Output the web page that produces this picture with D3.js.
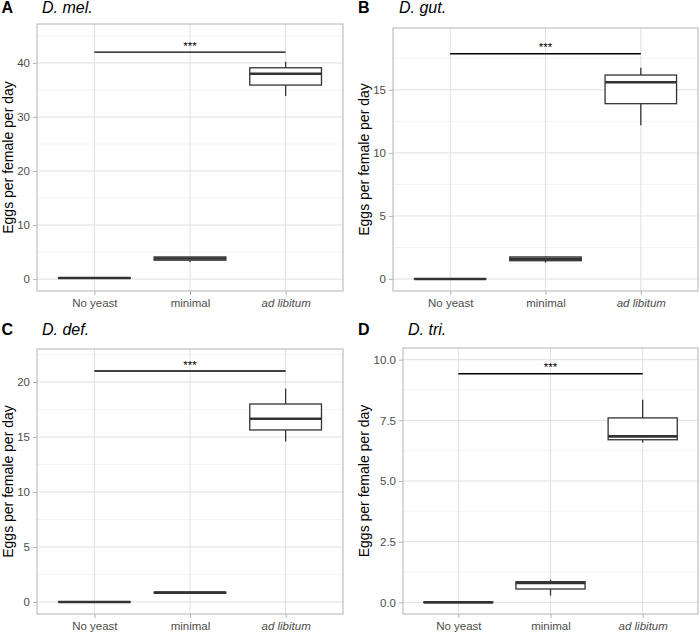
<!DOCTYPE html>
<html>
<head>
<meta charset="utf-8">
<script src="https://cdn.jsdelivr.net/npm/d3@7"></script>
<style>
  html, body { margin: 0; padding: 0; background: #fff; }
  svg { display: block; font-family: "Liberation Sans", Arial, sans-serif; }
</style>
</head>
<body>
<svg id="chart" width="700" height="633"></svg>
<script>
// ---------- data ----------
const categories = ["No yeast", "minimal", "ad libitum"];
const panelLetters = ["A", "B", "C", "D"];
const speciesNames = ["D. mel.", "D. gut.", "D. def.", "D. tri."];
const yLabel = "Eggs per female per day";
const sigLabel = "***";

// box stats per category: [lower whisker, q1, median, q3, upper whisker]
const melStats = [[0.1, 0.15, 0.2, 0.25, 0.3], [3.1, 3.5, 3.8, 4.1, 4.1], [33.9, 35.9, 38.0, 39.1, 40.2]];
const gutStats = [[0, 0, 0, 0.02, 0.04], [1.3, 1.45, 1.6, 1.75, 1.8], [12.2, 13.9, 15.6, 16.17, 16.75]];
const defStats = [[0, 0, 0, 0.02, 0.04], [0.8, 0.82, 0.85, 0.9, 0.9], [14.6, 15.64, 16.66, 18.0, 19.4]];
const triStats = [[0, 0, 0, 0.01, 0.02], [0.28, 0.55, 0.8, 0.85, 0.93], [6.59, 6.70, 6.84, 7.6, 8.35]];

const sigValues = [42, 17.86, 21, 9.42];
const yDomains = [[-2.2, 47.2], [-0.95, 19.9], [-1.09, 23.0], [-0.48, 10.48]];
const melTicks = [0, 10, 20, 30, 40];
const gutTicks = [0, 5, 10, 15];
const defTicks = [0, 5, 10, 15, 20];
const triTicks = [0, 2.5, 5, 7.5, 10];
const tickFormats = ["d", "d", "d", ".1f"];

// ---------- layout ----------
const panelBoxes = [
  { left: 37, top: 24, right: 343, bottom: 291, ox: 0, oy: 0, titleY: 13, yTitleX: 8 },
  { left: 393, top: 28, right: 698, bottom: 291, ox: 350, oy: 0, titleY: 13, yTitleX: 364 },
  { left: 37, top: 349, right: 343, bottom: 614, ox: 0, oy: 320, titleY: 335, yTitleX: 8 },
  { left: 403, top: 348, right: 698, bottom: 614, ox: 350, oy: 320, titleY: 335, yTitleX: 364 }
];
const titleOffsets = [42, 49, 42, 58];

const allStats = [melStats, gutStats, defStats, triStats];
const allTicks = [melTicks, gutTicks, defTicks, triTicks];

const svg = d3.select("#chart");

panelBoxes.forEach((pb, i) => {
  const g = svg.append("g");
  const x = d3.scalePoint().domain(categories).range([pb.left, pb.right]).padding(0.6);
  const step = x.step();
  const boxW = step * 0.75;
  const y = d3.scaleLinear().domain(yDomains[i]).range([pb.bottom, pb.top]);
  const ticks = allTicks[i];
  const fmt = d3.format(tickFormats[i]);

  // minor grid
  const minor = [];
  for (let k = 0; k < ticks.length - 1; k++) minor.push((ticks[k] + ticks[k + 1]) / 2);
  const dstep = ticks[1] - ticks[0];
  minor.push(ticks[ticks.length - 1] + dstep / 2);
  minor.unshift(ticks[0] - dstep / 2);
  g.selectAll(".minor").data(minor.filter(v => v > yDomains[i][0] && v < yDomains[i][1]))
    .enter().append("line")
    .attr("x1", pb.left).attr("x2", pb.right)
    .attr("y1", d => y(d)).attr("y2", d => y(d))
    .attr("stroke", "#efefef").attr("stroke-width", 0.7);

  // major grid
  g.selectAll(".major").data(ticks).enter().append("line")
    .attr("x1", pb.left).attr("x2", pb.right)
    .attr("y1", d => y(d)).attr("y2", d => y(d))
    .attr("stroke", "#e0e0e0").attr("stroke-width", 1);
  g.selectAll(".vmajor").data(categories).enter().append("line")
    .attr("x1", d => x(d)).attr("x2", d => x(d))
    .attr("y1", pb.top).attr("y2", pb.bottom)
    .attr("stroke", "#e0e0e0").attr("stroke-width", 1);

  // axes
  const yAxis = d3.axisLeft(y).tickValues(ticks).tickFormat(fmt).tickSize(4).tickPadding(3);
  const ya = g.append("g").attr("transform", `translate(${pb.left},0)`).call(yAxis);
  const xAxis = d3.axisBottom(x).tickSize(4).tickPadding(4);
  const xa = g.append("g").attr("transform", `translate(0,${pb.bottom})`).call(xAxis);
  [ya, xa].forEach(a => {
    a.select(".domain").remove();
    a.selectAll(".tick line").attr("stroke", "#b3b3b3");
    a.selectAll(".tick text").attr("fill", "#4d4d4d").style("font-size", "11.5px")
      .style("font-family", "'Liberation Sans', Arial, sans-serif");
  });
  xa.selectAll(".tick text").style("font-style", d => d === "ad libitum" ? "italic" : "normal");

  // boxes
  const stats = allStats[i];
  const bg = g.append("g");
  categories.forEach((c, j) => {
    const s = stats[j];
    const cx = x(c);
    bg.append("line").attr("x1", cx).attr("x2", cx).attr("y1", y(s[0])).attr("y2", y(s[1]))
      .attr("stroke", "#333").attr("stroke-width", 1.3);
    bg.append("line").attr("x1", cx).attr("x2", cx).attr("y1", y(s[3])).attr("y2", y(s[4]))
      .attr("stroke", "#333").attr("stroke-width", 1.3);
    bg.append("rect").attr("x", cx - boxW / 2).attr("width", boxW)
      .attr("y", y(s[3])).attr("height", Math.max(0, y(s[1]) - y(s[3])))
      .attr("fill", "#fff").attr("stroke", "#333").attr("stroke-width", 1.3);
    bg.append("line").attr("x1", cx - boxW / 2).attr("x2", cx + boxW / 2)
      .attr("y1", y(s[2])).attr("y2", y(s[2]))
      .attr("stroke", "#333").attr("stroke-width", 2.6);
  });

  // significance bar
  const sy = y(sigValues[i]);
  g.append("line").attr("x1", x(categories[0])).attr("x2", x(categories[2]))
    .attr("y1", sy).attr("y2", sy).attr("stroke", "#000").attr("stroke-width", 1.4);
  g.append("text").attr("x", (x(categories[0]) + x(categories[2])) / 2).attr("y", sy - 2.5)
    .attr("text-anchor", "middle").style("font-size", "11.5px").attr("fill", "#000").text(sigLabel);

  // panel border
  g.append("rect").attr("x", pb.left).attr("y", pb.top)
    .attr("width", pb.right - pb.left).attr("height", pb.bottom - pb.top)
    .attr("fill", "none").attr("stroke", "#b3b3b3").attr("stroke-width", 1);

  // y title
  g.append("text")
    .attr("transform", `translate(${pb.yTitleX},${(pb.top + pb.bottom) / 2}) rotate(-90)`)
    .attr("text-anchor", "middle").attr("dominant-baseline", "central")
    .style("font-size", "14px").attr("fill", "#000").text(yLabel);

  // titles
  g.append("text").attr("x", pb.ox + (i % 2 === 0 ? 1.5 : 8)).attr("y", pb.titleY)
    .style("font-size", "16px").style("font-weight", "bold").attr("fill", "#000").text(panelLetters[i]);
  g.append("text").attr("x", pb.ox + titleOffsets[i]).attr("y", pb.titleY)
    .style("font-size", "16px").style("font-style", "italic").attr("fill", "#000").text(speciesNames[i]);
});
</script>
</body>
</html>
